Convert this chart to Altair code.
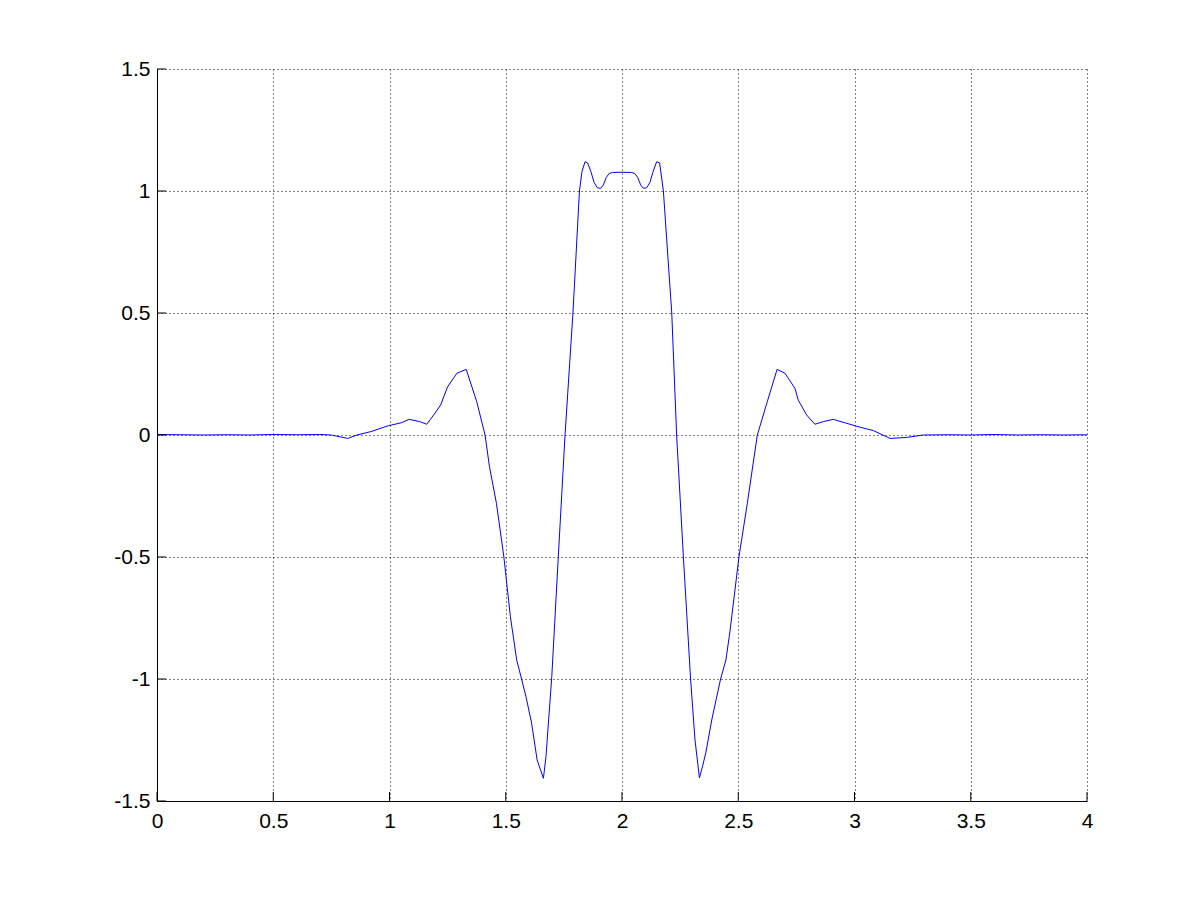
import altair as alt
import pandas as pd

# curve samples
xs = [0, 0.1, 0.2, 0.3, 0.4, 0.5, 0.6, 0.7, 0.75, 0.82, 0.86, 0.92, 0.995, 1.05, 1.085,
      1.13, 1.16, 1.19, 1.22, 1.25, 1.29, 1.33, 1.375, 1.411, 1.43, 1.46, 1.492, 1.52, 1.547,
      1.568, 1.587, 1.611, 1.635, 1.662, 1.673, 1.698, 1.726, 1.755, 1.789, 1.817, 1.828,
      1.841, 1.852, 1.866, 1.88, 1.894, 1.908, 1.92, 1.932, 1.945, 1.96, 2.0,
      2.04, 2.055, 2.068, 2.08, 2.092, 2.106, 2.12, 2.134, 2.149, 2.162, 2.178, 2.214,
      2.235, 2.264, 2.295, 2.314, 2.333, 2.346, 2.361, 2.386, 2.424, 2.447, 2.465, 2.503,
      2.539, 2.582, 2.625, 2.667, 2.701, 2.744, 2.758, 2.794, 2.830, 2.866, 2.909,
      2.966, 3.024, 3.081, 3.153, 3.224, 3.296, 3.4, 3.5, 3.6, 3.7, 3.8, 3.9, 4.0]
ys = [0.002, 0.001, 0.0, 0.001, 0.0, 0.002, 0.001, 0.002, 0.0, -0.014, 0.0, 0.014, 0.038,
      0.05, 0.064, 0.055, 0.044, 0.082, 0.123, 0.198, 0.253, 0.269, 0.137, 0.0, -0.13,
      -0.28, -0.5, -0.745, -0.922, -1.0, -1.072, -1.18, -1.332, -1.407, -1.318, -0.99, -0.5,
      0.0, 0.5, 1.0, 1.08, 1.12, 1.115, 1.08, 1.035, 1.013, 1.011, 1.025, 1.055, 1.072,
      1.076, 1.077,
      1.076, 1.072, 1.055, 1.025, 1.011, 1.013, 1.035, 1.08, 1.12, 1.115, 1.0, 0.5,
      0.0, -0.5, -1.0, -1.25, -1.405, -1.36, -1.3, -1.168, -1.0, -0.922, -0.8, -0.5,
      -0.28, 0.0, 0.137, 0.269, 0.253, 0.191, 0.143, 0.082, 0.044, 0.055, 0.064,
      0.048, 0.032, 0.018, -0.014, -0.01, 0.0, 0.001, 0.0, 0.002, 0.0, 0.001, 0.0, 0.001]

x_ticks = [0, 0.5, 1, 1.5, 2, 2.5, 3, 3.5, 4]
y_ticks = [-1.5, -1, -0.5, 0, 0.5, 1, 1.5]

W, H = 930, 732
FONT = "Liberation Sans"

df = pd.DataFrame({"x": xs, "y": ys})
xdf = pd.DataFrame({"x": x_ticks})
ydf = pd.DataFrame({"y": y_ticks})

xscale = alt.Scale(domain=[0, 4], nice=False, zero=False)
yscale = alt.Scale(domain=[-1.5, 1.5], nice=False, zero=False)

xaxis = alt.Axis(values=x_ticks, labelExpr="'' + datum.value", title=None, ticks=False,
                 grid=True, gridDash=[1, 3], gridColor="#000000", gridOpacity=1,
                 domainColor="#000000", domainWidth=1, labelFont=FONT, labelFontSize=21,
                 labelColor="#000000", labelPadding=9, labelFlush=False)
yaxis = alt.Axis(values=y_ticks, labelExpr="'' + datum.value", title=None, ticks=False,
                 grid=True, gridDash=[1, 3], gridColor="#000000", gridOpacity=1,
                 domainColor="#000000", domainWidth=1, labelFont=FONT, labelFontSize=21,
                 labelColor="#000000", labelPadding=7, labelFlush=False)

line = alt.Chart(df).mark_line(color="#0000ff", strokeWidth=1, clip=True).encode(
    x=alt.X("x:Q", scale=xscale, axis=xaxis),
    y=alt.Y("y:Q", scale=yscale, axis=yaxis),
)

xt = alt.Chart(xdf).mark_rule(color="#000000", strokeWidth=1).encode(
    x=alt.X("x:Q", scale=xscale, axis=xaxis),
    y=alt.value(H), y2=alt.value(H - 9),
)
yt = alt.Chart(ydf).mark_rule(color="#000000", strokeWidth=1).encode(
    y=alt.Y("y:Q", scale=yscale, axis=yaxis),
    x=alt.value(0), x2=alt.value(9),
)

chart = alt.layer(line, xt, yt).properties(
    width=W, height=H,
    background="#ffffff",
    padding={"left": 149, "top": 61, "right": 20, "bottom": 40},
    autosize=alt.AutoSizeParams(type="none"),
).configure_view(stroke=None)

chart.save("out.html", embed_options={"renderer": "svg", "actions": False})
